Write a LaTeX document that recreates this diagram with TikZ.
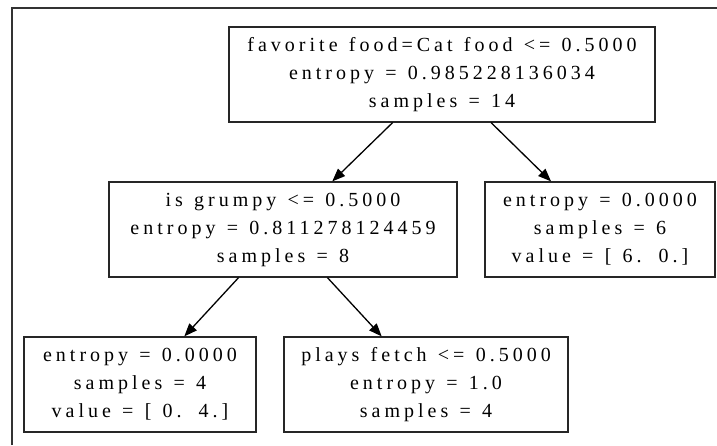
\documentclass[tikz,border=0pt]{standalone}
\usepackage{fontspec}
\setmainfont{Liberation Serif}[LetterSpace=20,WordSpace=1.25]
\usetikzlibrary{arrows.meta}
\newcommand{\dgap}{\hspace{17pt}}
\begin{document}
\begin{tikzpicture}[x=1pt,y=1pt,
  treebox/.style={draw=black!85, line width=1.2pt, rectangle, inner sep=0pt,
    minimum height=95pt, align=center, font=\fontsize{20}{28}\selectfont},
  edge/.style={draw=black, line width=1.3pt, -{Triangle[length=13pt,width=10pt]}}]
\useasboundingbox (0,0) rectangle (717,-445);
\draw[black!80, line width=1.5pt] (12,-445) -- (12,-8) -- (717,-8);
\node[treebox, minimum width=426pt] (root) at (442,-74.5)
  {favorite food=Cat food <= 0.5000\\entropy = 0.985228136034\\samples = 14};
\node[treebox, minimum width=348pt] (grumpy) at (283,-229.5)
  {is grumpy <= 0.5000\\entropy = 0.811278124459\\samples = 8};
\node[treebox, minimum width=230pt] (leafR) at (600,-229.5)
  {entropy = 0.0000\\samples = 6\\value = [ 6.\dgap0.]};
\node[treebox, minimum width=232pt] (leafL) at (140,-384.5)
  {entropy = 0.0000\\samples = 4\\value = [ 0.\dgap4.]};
\node[treebox, minimum width=284pt] (fetch) at (426,-384.5)
  {plays fetch <= 0.5000\\entropy = 1.0\\samples = 4};
\draw[edge] (root) -- (grumpy);
\draw[edge] (root) -- (leafR);
\draw[edge] (grumpy) -- (leafL);
\draw[edge] (grumpy) -- (fetch);
\end{tikzpicture}
\end{document}
